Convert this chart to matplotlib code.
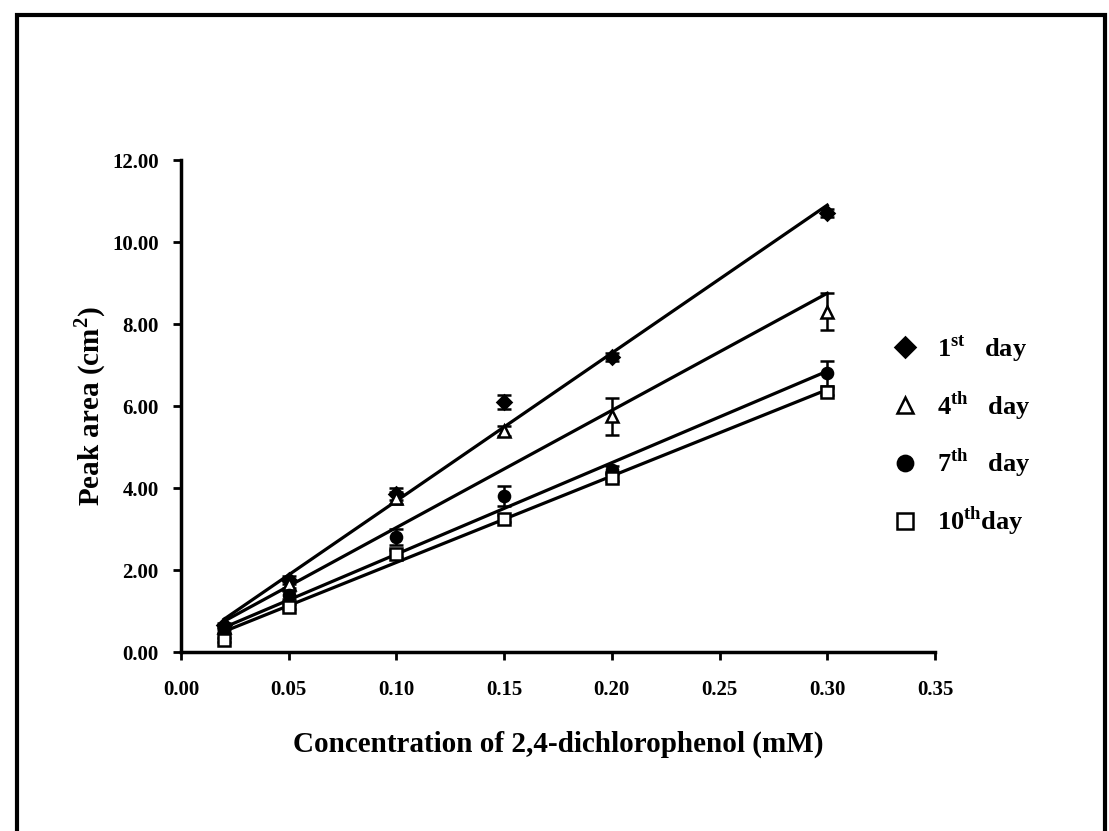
import numpy as np
import matplotlib
matplotlib.use("Agg")
import matplotlib.pyplot as plt
from matplotlib.lines import Line2D
from matplotlib.patches import Rectangle

# ------------------------------------------------------------
# Data
# ------------------------------------------------------------
conc = [0.02, 0.05, 0.10, 0.15, 0.20, 0.30]

day1 = [0.65, 1.75, 3.85, 6.10, 7.20, 10.70]
day1_err = [0.05, 0.10, 0.15, 0.18, 0.10, 0.10]

day4 = [0.60, 1.65, 3.75, 5.40, 5.75, 8.30]
day4_err = [0.05, 0.08, 0.15, 0.12, 0.45, 0.45]

day7 = [0.55, 1.40, 2.80, 3.80, 4.45, 6.80]
day7_err = [0.05, 0.10, 0.20, 0.25, 0.08, 0.30]

day10 = [0.30, 1.10, 2.40, 3.25, 4.25, 6.35]
day10_err = [0.05, 0.06, 0.08, 0.08, 0.08, 0.08]

# trend lines as drawn (value at 0.02 and at 0.30)
trend_x = [0.02, 0.30]
trend1 = [0.80, 10.90]
trend4 = [0.75, 8.75]
trend7 = [0.60, 6.85]
trend10 = [0.50, 6.40]

labels = [r"1$^{\mathbf{st}}$   day", r"4$^{\mathbf{th}}$   day",
          r"7$^{\mathbf{th}}$   day", r"10$^{\mathbf{th}}$day"]
markers = ["D", "^", "o", "s"]
filled = [True, False, True, False]

x_ticks = [0.00, 0.05, 0.10, 0.15, 0.20, 0.25, 0.30, 0.35]
y_ticks = [0, 2, 4, 6, 8, 10, 12]

# ------------------------------------------------------------
# Style
# ------------------------------------------------------------
plt.rcParams["font.family"] = ["Liberation Serif", "DejaVu Serif"]
plt.rcParams["font.weight"] = "bold"
plt.rcParams["mathtext.fontset"] = "custom"
plt.rcParams["mathtext.rm"] = "Liberation Serif:bold"
plt.rcParams["mathtext.bf"] = "Liberation Serif:bold"

fig = plt.figure(figsize=(11.09, 8.31), dpi=100)
ax = fig.add_axes([181 / 1109, 1 - 652 / 831, 754 / 1109, 492 / 831])

series = [(day1, day1_err, trend1), (day4, day4_err, trend4),
          (day7, day7_err, trend7), (day10, day10_err, trend10)]
for (vals, errs, trend), mk, fl in zip(series, markers, filled):
    ax.plot(trend_x, trend, color="black", lw=2.3, zorder=2)
    ax.errorbar(conc, vals, yerr=errs, fmt=mk, color="black", ecolor="black",
                elinewidth=1.8, capsize=5, capthick=1.8, ms=8 if mk != "D" else 7,
                mfc="black" if fl else "white", mec="black", mew=1.8, zorder=3)

ax.set_xlim(0, 0.35)
ax.set_ylim(0, 12)
ax.set_xticks(x_ticks)
ax.set_yticks(y_ticks)
ax.set_xticklabels([f"{t:.2f}" for t in x_ticks])
ax.set_yticklabels([f"{t:.2f}" for t in y_ticks])
ax.tick_params(direction="out", length=6, width=2, labelsize=15)
ax.tick_params(axis="x", pad=14)
ax.tick_params(axis="y", pad=10)
for side in ["top", "right"]:
    ax.spines[side].set_visible(False)
for side in ["left", "bottom"]:
    ax.spines[side].set_linewidth(2.5)

ax.set_xlabel("Concentration of 2,4-dichlorophenol (mM)", fontsize=21,
              fontweight="bold", labelpad=22)
ax.set_ylabel(r"Peak area (cm$^{2}$)", fontsize=21, fontweight="bold", labelpad=3)

handles = [Line2D([], [], ls="none", marker=mk, color="black", ms=11 if mk != "D" else 10,
                  mfc="black" if fl else "white", mec="black", mew=1.8)
           for mk, fl in zip(markers, filled)]
fig.legend(handles, labels, loc="center left", bbox_to_anchor=(868 / 1109, 1 - 435 / 831),
           frameon=False, labelspacing=0.95, handletextpad=0.7,
           handlelength=1.0, prop={"weight": "bold", "size": 19})

# outer frame of the figure
fig.patches.append(Rectangle((17 / 1109, -0.01), 1088 / 1109, 1 - 15 / 831 + 0.01,
                             transform=fig.transFigure, fill=False,
                             edgecolor="black", lw=3))

fig.savefig("out.png", dpi=100)
